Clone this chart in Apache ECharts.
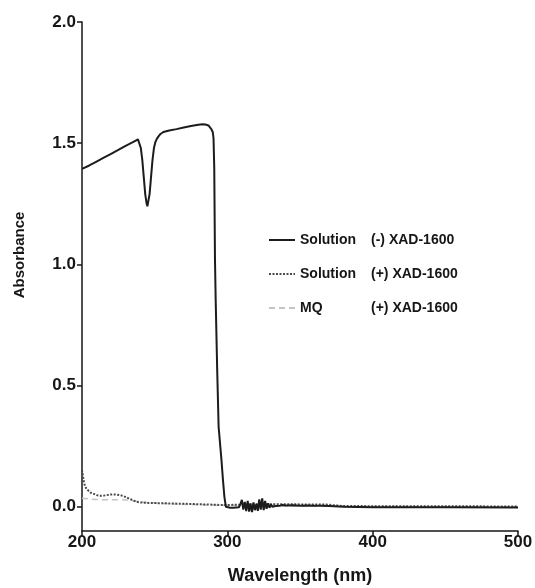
<!DOCTYPE html>
<html>
<head>
<meta charset="utf-8">
<script src="https://cdn.jsdelivr.net/npm/echarts@6/dist/echarts.min.js"></script>
<style>
  html, body { margin: 0; padding: 0; background: #fff; }
  #chart { width: 535px; height: 588px; }
</style>
</head>
<body>
<div id="chart"></div>
<script>
// UV absorbance spectra, 200–500 nm

// Solution without XAD-1600 resin
const solutionMinusWl = [200, 205, 210, 215, 220, 225, 230, 235, 237, 238.5, 239.5, 240.5, 241.5, 242.5, 243.5, 244.5, 245, 245.5, 246.5, 247.5, 248.5, 249.5, 250.5, 251.5, 252.5, 254, 256, 260, 265, 270, 275, 280, 283, 285, 287, 288, 289, 290, 290.5, 291, 291.5, 292, 293, 294, 295, 296, 297, 298, 299, 300, 302, 304, 306, 308, 309, 310, 311, 312, 313, 314, 315, 316, 317, 318, 319, 320, 321, 322, 323, 324, 325, 326, 327, 328, 329, 330, 331, 332, 333, 334, 336, 338, 340, 345, 350, 355, 360, 365, 370, 380, 400, 450, 500];
const solutionMinusAbs = [1.394, 1.408, 1.424, 1.44, 1.456, 1.472, 1.489, 1.504, 1.511, 1.516, 1.51, 1.48, 1.43, 1.36, 1.29, 1.25, 1.24, 1.245, 1.29, 1.36, 1.43, 1.48, 1.505, 1.518, 1.527, 1.538, 1.546, 1.552, 1.558, 1.565, 1.571, 1.576, 1.578, 1.577, 1.573, 1.568, 1.558, 1.545, 1.52, 1.40, 1.02, 0.85, 0.57, 0.33, 0.26, 0.19, 0.11, 0.04, 0.0, -0.004, -0.004, -0.004, -0.003, -0.002, 0.012, 0.028, -0.012, 0.02, -0.018, 0.024, -0.02, 0.014, -0.022, 0.018, -0.014, 0.012, -0.017, 0.03, -0.012, 0.035, -0.014, 0.024, -0.008, 0.014, -0.004, 0.01, 0.0, 0.008, 0.003, 0.006, 0.004, 0.007, 0.005, 0.006, 0.004, 0.005, 0.004, 0.004, 0.003, 0.0, -0.002, -0.002, -0.003, -0.003];

// Solution after XAD-1600 resin
const solutionPlusWl = [200, 200.7, 201.4, 202.1, 203, 204.3, 206, 207.8, 210, 212.4, 215, 217, 219, 221.5, 224, 226.2, 228.5, 230.8, 233, 235.3, 237.5, 239.9, 245, 251.4, 272, 298.4, 320, 345, 368, 380, 420, 460, 500];
const solutionPlusAbs = [0.152, 0.125, 0.10, 0.085, 0.074, 0.066, 0.058, 0.054, 0.048, 0.045, 0.046, 0.048, 0.05, 0.051, 0.05, 0.048, 0.044, 0.038, 0.032, 0.026, 0.021, 0.018, 0.016, 0.015, 0.012, 0.007, 0.01, 0.01, 0.009, 0.003, 0.002, 0.002, 0.001];

// MQ water after XAD-1600 resin
const mqWl = [200, 210, 220, 230, 235, 240, 260, 300, 350, 400, 500];
const mqAbs = [0.035, 0.03, 0.029, 0.028, 0.025, 0.02, 0.012, 0.006, 0.003, 0.001, 0.0];

// Legend labels (sample / treatment columns)
const sampleLabels = ['Solution', 'Solution', 'MQ'];
const treatmentLabels = ['(-) XAD-1600', '(+) XAD-1600', '(+) XAD-1600'];

// Axis ticks
const xTicks = [200, 300, 400, 500];
const yTicks = [0, 0.5, 1.0, 1.5, 2.0];

const pairs = (xs, ys) => xs.map((x, i) => [x, ys[i]]);
const seriesNames = sampleLabels.map((s, i) => s + '|' + treatmentLabels[i]);

const FONT = '"Liberation Sans", Arial, Helvetica, sans-serif';
const INK = '#161616';

const chart = echarts.init(document.getElementById('chart'), null, { renderer: 'canvas' });

chart.setOption({
  animation: false,
  backgroundColor: '#ffffff',
  grid: { left: 82, right: 17, top: 22, bottom: 57, containLabel: false, outerBoundsMode: 'none' },
  legend: {
    orient: 'vertical',
    left: 268,
    top: 233,
    padding: 0,
    itemWidth: 26,
    itemHeight: 14,
    itemGap: 20,
    data: seriesNames,
    itemStyle: { opacity: 0 },
    formatter: name => {
      const [a, b] = name.split('|');
      return '{a|' + a + '}{b|' + b + '}';
    },
    textStyle: {
      fontFamily: FONT,
      fontWeight: 'bold',
      fontSize: 14,
      color: INK,
      rich: {
        a: { fontFamily: FONT, fontWeight: 'bold', fontSize: 14, color: INK, width: 71 },
        b: { fontFamily: FONT, fontWeight: 'bold', fontSize: 14, color: INK }
      }
    }
  },
  xAxis: {
    type: 'value',
    min: 200,
    max: 500,
    interval: 100,
    name: 'Wavelength (nm)',
    nameLocation: 'middle',
    nameGap: 36,
    nameTextStyle: { fontFamily: FONT, fontWeight: 'bold', fontSize: 18, color: INK },
    splitLine: { show: false },
    axisLine: { show: true, onZero: false, lineStyle: { color: INK, width: 1.5 } },
    axisTick: { show: true, inside: false, length: 5, lineStyle: { color: INK, width: 1.5 }, customValues: xTicks },
    axisLabel: { fontFamily: FONT, fontWeight: 'bold', fontSize: 17, color: INK, margin: 3, customValues: xTicks }
  },
  yAxis: {
    type: 'value',
    min: -0.1,
    max: 2.0,
    name: 'Absorbance',
    nameLocation: 'middle',
    nameGap: 55,
    nameRotate: 90,
    nameTextStyle: { fontFamily: FONT, fontWeight: 'bold', fontSize: 15, color: INK, padding: [0, 0, 0, 43] },
    splitLine: { show: false },
    axisLine: { show: true, onZero: false, lineStyle: { color: INK, width: 1.5 } },
    axisTick: { show: true, inside: false, length: 5, lineStyle: { color: INK, width: 1.5 }, customValues: yTicks },
    axisLabel: {
      fontFamily: FONT, fontWeight: 'bold', fontSize: 17, color: INK, margin: 6,
      customValues: yTicks,
      formatter: v => v.toFixed(1)
    }
  },
  series: [
    {
      name: seriesNames[0],
      type: 'line',
      data: pairs(solutionMinusWl, solutionMinusAbs),
      showSymbol: false,
      symbol: 'none',
      z: 4,
      lineStyle: { color: '#1c1c1c', width: 2 },
      itemStyle: { color: '#1c1c1c' }
    },
    {
      name: seriesNames[1],
      type: 'line',
      data: pairs(solutionPlusWl, solutionPlusAbs),
      showSymbol: false,
      symbol: 'none',
      z: 3,
      lineStyle: { color: '#4a4a4a', width: 2, type: [2, 1.5] },
      itemStyle: { color: '#4a4a4a' }
    },
    {
      name: seriesNames[2],
      type: 'line',
      data: pairs(mqWl, mqAbs),
      showSymbol: false,
      symbol: 'none',
      smooth: 0.3,
      z: 2,
      lineStyle: { color: '#c4c4c4', width: 1.5, type: [6, 4] },
      itemStyle: { color: '#c4c4c4' }
    }
  ]
});
</script>
</body>
</html>
